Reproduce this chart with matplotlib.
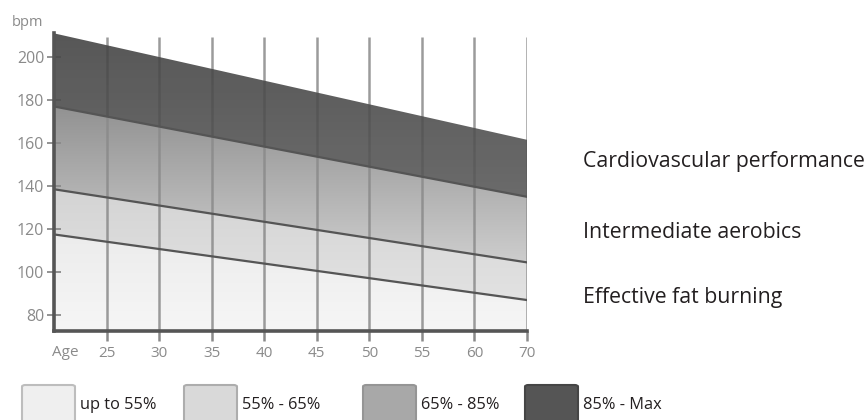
import numpy as np
import matplotlib
matplotlib.use('Agg')
import matplotlib.pyplot as plt
from matplotlib.colors import LinearSegmentedColormap
from matplotlib.patches import FancyBboxPatch

plt.rcParams['font.family'] = ['Open Sans', 'DejaVu Sans']

# x positions: 0 is the left edge (age 20), 1..9 the labelled gridlines
edge_x = [0, 9]
age_labels = ['25', '30', '35', '40', '45', '50', '55', '60', '70']

# zone boundaries in bpm at the left and right edges
max_hr = [211, 161.5]
hr_85 = [177, 135]
hr_65 = [138.5, 104.5]
hr_55 = [117.5, 87]
floor_hr = [72.6, 72.6]

bands = [
    (floor_hr, hr_55, '#f6f6f6', '#ececec', 1, 1.0),
    (hr_55, hr_65, '#e2e2e2', '#d4d4d4', 1, 1.0),
    (hr_65, hr_85, '#cdcdcd', '#929292', 1, 1.0),
    (hr_85, max_hr, '#5a5a5a', '#444444', 2.5, 0.9),
]

legend_labels = ['up to 55%', '55% - 65%', '65% - 85%', '85% - Max']
legend_colors = ['#efefef', '#d9d9d9', '#a8a8a8', '#555555']
legend_edges = ['#bdbdbd', '#adadad', '#959595', '#454545']
legend_left = [22, 184, 363, 525]

zone_names = ['Cardiovascular performance', 'Intermediate aerobics', 'Effective fat burning']
zone_y = [162, 232, 298]

W, H = 868, 420
fig = plt.figure(figsize=(W / 100, H / 100), dpi=100)
ax = fig.add_axes([54 / W, 89 / H, 473 / W, 311 / H])
ax.set_xlim(0, 9)
ax.set_ylim(72.6, 217.2)

for lo, hi, c_bottom, c_top, z, a in bands:
    poly = ax.fill_between(edge_x, lo, hi, color='none', lw=0)
    cmap = LinearSegmentedColormap.from_list('g', [c_bottom, c_top])
    grad = np.linspace(0, 1, 256).reshape(-1, 1)
    im = ax.imshow(grad, cmap=cmap, origin='lower', aspect='auto',
                   extent=[0, 9, min(lo), max(hi)], zorder=z, alpha=a)
    im.set_clip_path(poly.get_paths()[0], transform=ax.transData)

for line in (hr_55, hr_65, hr_85):
    ax.plot(edge_x, line, color='#555555', lw=1.6, zorder=3)

# vertical grid lines
ax.vlines(range(1, 10), 72.6, 209.3, color='#8a8a8a', lw=1.8, alpha=0.85, zorder=2)

for side in ('top', 'right'):
    ax.spines[side].set_visible(False)
for side in ('left', 'bottom'):
    ax.spines[side].set_color('#555555')
    ax.spines[side].set_linewidth(2.6)
    ax.spines[side].set_zorder(4)
ax.spines['left'].set_bounds(72.6, max_hr[0])

ax.set_xticks(range(1, 10))
ax.set_xticklabels(age_labels)
ax.set_yticks([80, 100, 120, 140, 160, 180, 200])
ax.tick_params(axis='x', length=7, width=1.8, color='#8a8a8a', direction='out',
               labelsize=11, labelcolor='#8a8a8a', pad=4)
ax.tick_params(axis='y', length=10, width=1.3, color='#8a8a8a', direction='inout',
               labelsize=11.5, labelcolor='#8a8a8a', pad=2)
ax.set_facecolor('none')

fig.text(12 / W, 1 - 22 / H, 'bpm', fontsize=10.5, color='#8a8a8a', va='center', ha='left')
fig.text(65 / W, 1 - 352 / H, 'Age', fontsize=11, color='#8a8a8a', va='center', ha='center')

for name, y in zip(zone_names, zone_y):
    fig.text(583 / W, 1 - y / H, name, fontsize=15.3, color='#231f20', va='center', ha='left')

for lab, col, ec, x0 in zip(legend_labels, legend_colors, legend_edges, legend_left):
    box = FancyBboxPatch((x0 / W, (H - 425) / H), 53 / W, 40 / H,
                         boxstyle='round,pad=0,rounding_size=0.004',
                         transform=fig.transFigure, facecolor=col, edgecolor=ec, lw=1.5)
    fig.add_artist(box)
    fig.text((x0 + 58) / W, 1 - 405 / H, lab, fontsize=11.8, color='#231f20',
             va='center', ha='left')

fig.savefig('out.png', dpi=100)
